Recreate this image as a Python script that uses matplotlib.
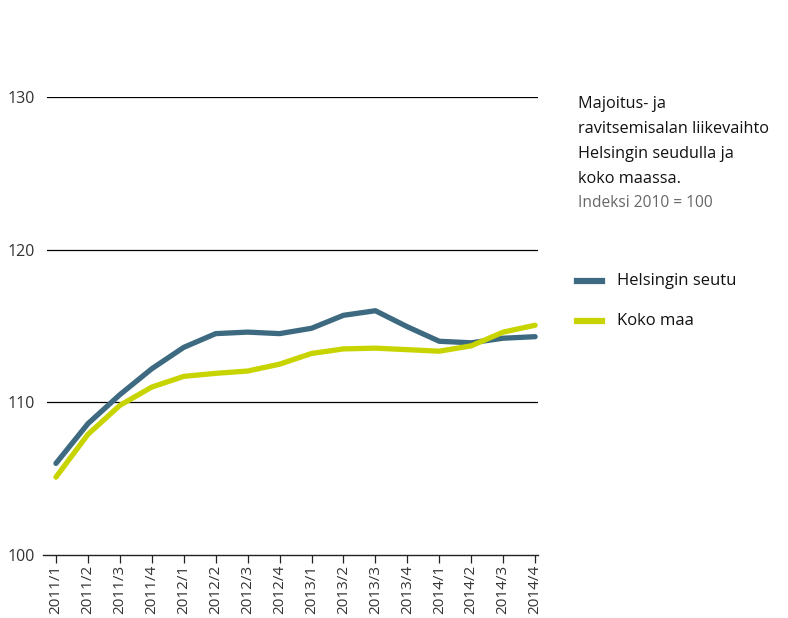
import matplotlib.pyplot as plt
import numpy as np

plt.rcParams['font.family'] = ['Open Sans', 'DejaVu Sans']

quarters = ["2011/1", "2011/2", "2011/3", "2011/4",
            "2012/1", "2012/2", "2012/3", "2012/4",
            "2013/1", "2013/2", "2013/3", "2013/4",
            "2014/1", "2014/2", "2014/3", "2014/4"]
helsinki = [106.0, 108.6, 110.5, 112.2, 113.6, 114.5, 114.6, 114.5,
            114.85, 115.7, 116.0, 114.95, 114.0, 113.9, 114.2, 114.3]
koko_maa = [105.1, 107.9, 109.8, 111.0, 111.7, 111.9, 112.05, 112.5,
            113.2, 113.5, 113.55, 113.45, 113.35, 113.7, 114.6, 115.05]

blue = "#3d6a80"
yellow = "#c8d400"

fig = plt.figure(figsize=(7.88, 6.18), dpi=100)
ax = fig.add_axes([47 / 788, 1 - 555 / 618, (538 - 47) / 788, (555 - 97) / 618])

x = np.arange(len(quarters))
ax.plot(x, helsinki, color=blue, lw=3.8, solid_capstyle="round", zorder=3)
ax.plot(x, koko_maa, color=yellow, lw=3.8, solid_capstyle="round", zorder=3)

ax.set_xlim(-0.28, 15.09)
ax.set_ylim(100, 130)
ax.set_yticks([100, 110, 120, 130])
for v in [110, 120, 130]:
    ax.axhline(v, color="black", lw=0.9, zorder=1)
ax.axhline(100, xmin=-0.008, color="#222222", lw=1.0, clip_on=False, zorder=2)

ax.set_xticks(x)
ax.set_xticklabels(quarters, rotation=90, fontsize=11, color="#333333")
ax.tick_params(axis="x", direction="out", length=6, width=0.9, color="#222222", pad=1)
ax.tick_params(axis="y", length=0, labelsize=11.5, labelcolor="#333333", pad=9)
for s in ax.spines.values():
    s.set_visible(False)

fig.text(578 / 788, 1 - 96 / 618,
         "Majoitus- ja\nravitsemisalan liikevaihto\nHelsingin seudulla ja\nkoko maassa.",
         fontsize=11.7, color="#111111", va="top", linespacing=1.76)
fig.text(578 / 788, 1 - 203 / 618, "Indeksi 2010 = 100", fontsize=11.2,
         color="#666666", va="center")

# legend drawn as lines in figure coordinates
for yy, col, lab in [(281, blue, "Helsingin seutu"), (321, yellow, "Koko maa")]:
    fig.add_artist(plt.Line2D([577 / 788, 602 / 788], [1 - yy / 618] * 2,
                              color=col, lw=4.5, transform=fig.transFigure))
    fig.text(617 / 788, 1 - yy / 618, lab, fontsize=12, color="#111111", va="center")

fig.savefig("out.png", dpi=100)
